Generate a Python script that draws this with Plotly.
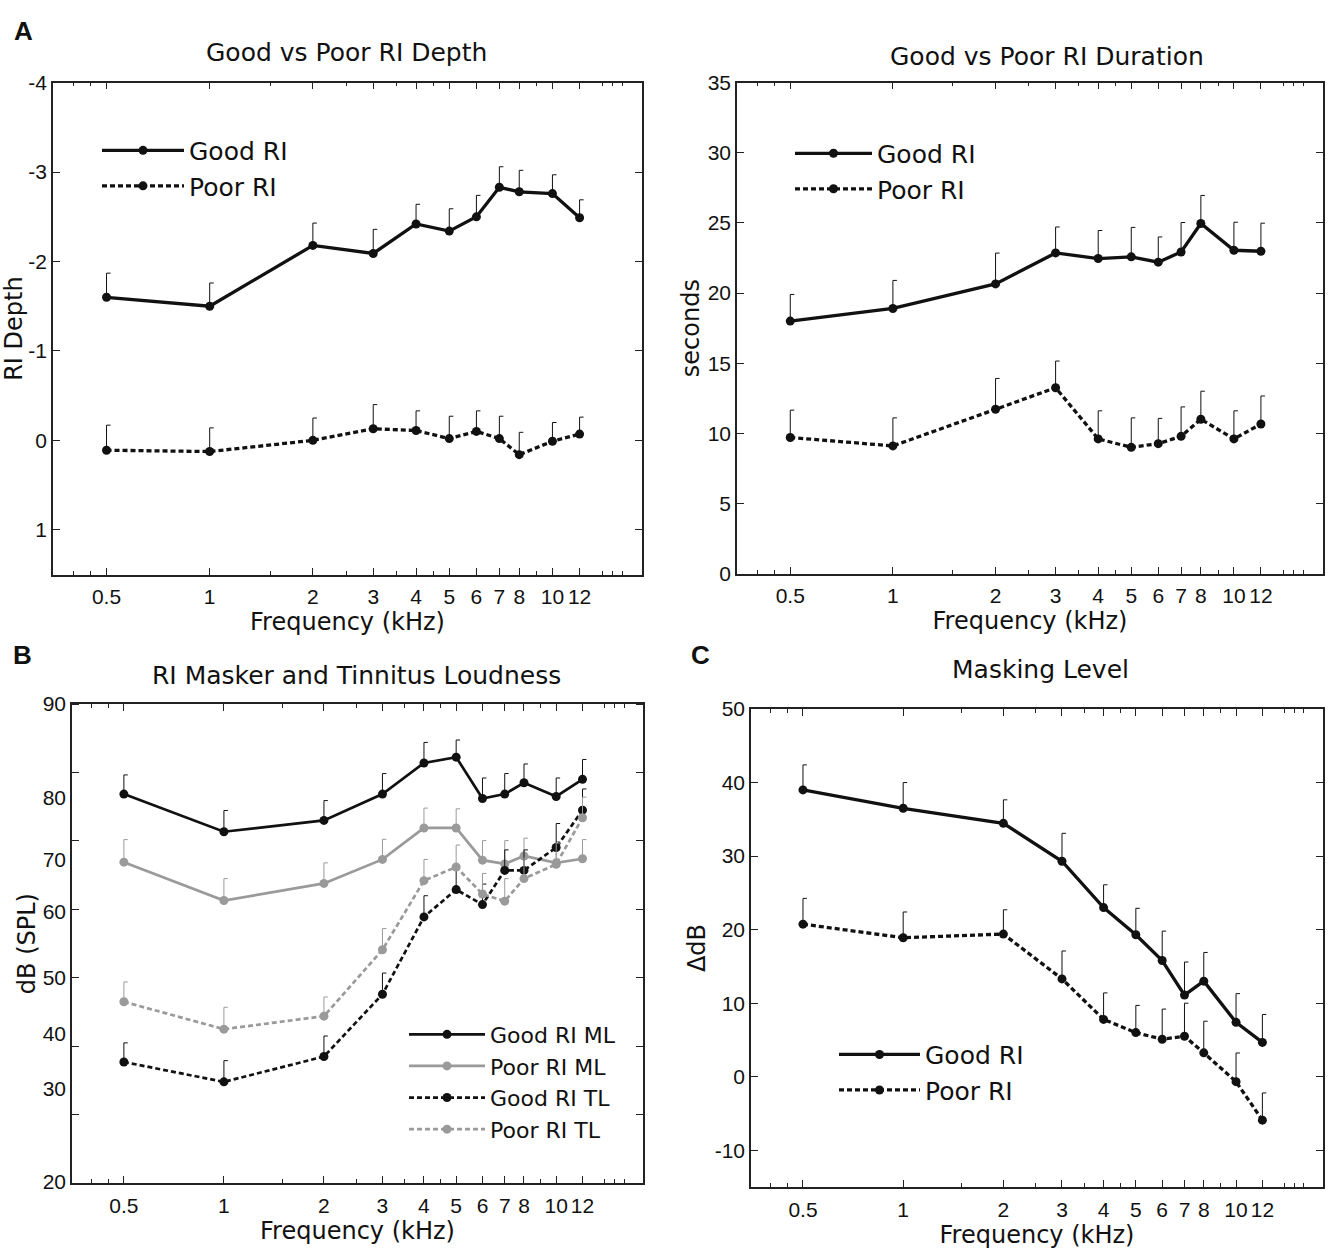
import math
import plotly.graph_objects as go

# ---------------- data ----------------
FREQ = [0.5, 1, 2, 3, 4, 5, 6, 7, 8, 10, 12]
FREQ_LABELS = ["0.5", "1", "2", "3", "4", "5", "6", "7", "8", "10", "12"]
FREQ_MINOR = [0.4, 0.45, 1.5, 2.5, 3.5, 4.5, 9, 14, 15, 16]

# Panel A (left): RI depth
depth_good = [-1.60, -1.50, -2.18, -2.09, -2.42, -2.34, -2.50, -2.83, -2.78, -2.76, -2.49]
depth_good_err = [0.27, 0.26, 0.25, 0.27, 0.22, 0.25, 0.24, 0.23, 0.24, 0.21, 0.20]
depth_poor = [0.11, 0.125, 0.0, -0.13, -0.11, -0.02, -0.10, -0.02, 0.16, 0.01, -0.07]
depth_poor_err = [0.28, 0.265, 0.25, 0.27, 0.22, 0.25, 0.23, 0.25, 0.25, 0.21, 0.19]

# Panel A (right): RI duration (seconds)
dur_good = [18.0, 18.9, 20.65, 22.86, 22.46, 22.58, 22.2, 22.93, 24.96, 23.05, 22.98]
dur_good_err = [1.9, 2.0, 2.2, 1.85, 2.0, 2.1, 1.8, 2.1, 2.0, 2.0, 2.0]
dur_poor = [9.7, 9.1, 11.71, 13.25, 9.6, 9.0, 9.26, 9.78, 11.0, 9.6, 10.66]
dur_poor_err = [1.95, 2.0, 2.2, 1.9, 2.0, 2.1, 1.8, 2.1, 2.0, 2.0, 2.0]

# Panel B: masker level (ML) and tinnitus loudness (TL), dB SPL
ml_good = [76.85, 71.35, 73.0, 76.85, 81.4, 82.25, 76.2, 76.85, 78.5, 76.5, 79.0]
ml_good_err = [2.8, 3.1, 2.9, 3.0, 3.0, 2.5, 3.0, 3.0, 2.75, 2.7, 2.9]
ml_poor = [66.9, 61.3, 63.8, 67.3, 71.9, 71.9, 67.2, 66.65, 67.8, 66.8, 67.4]
ml_poor_err = [3.3, 3.2, 3.0, 2.95, 2.9, 2.8, 2.85, 3.4, 2.6, 3.1, 2.8]
tl_good = [37.7, 34.8, 38.5, 47.6, 58.9, 62.9, 60.7, 65.7, 65.7, 69.05, 74.5]
tl_good_err = [2.8, 3.1, 3.0, 3.1, 3.1, 3.2, 3.0, 3.0, 3.0, 3.5, 3.1]
tl_poor = [46.5, 42.5, 44.4, 54.1, 64.2, 66.2, 62.25, 61.2, 64.5, 66.6, 73.4]
tl_poor_err = [2.9, 3.2, 2.8, 3.1, 3.1, 3.2, 3.0, 3.3, 3.0, 3.1, 3.0]
# panel B y-axis: tick marks every 10 dB, labels printed slightly offset (as in the original)
b_tick_marks = [20, 30, 40, 50, 60, 70, 80, 90]
b_label_pos = [90, 76.4, 67.3, 59.6, 50.1, 41.9, 33.8, 20.2]
b_label_text = ["90", "80", "70", "60", "50", "40", "30", "20"]

# Panel C: masking level (delta dB)
mask_good = [39.0, 36.5, 34.45, 29.3, 23.0, 19.3, 15.8, 11.1, 13.0, 7.4, 4.67]
mask_good_err = [3.4, 3.5, 3.2, 3.8, 3.1, 3.6, 4.0, 4.5, 3.9, 3.9, 3.8]
mask_poor = [20.75, 18.9, 19.4, 13.3, 7.8, 6.0, 5.1, 5.5, 3.25, -0.67, -5.9]
mask_poor_err = [3.5, 3.5, 3.3, 3.8, 3.6, 3.7, 4.1, 4.5, 4.3, 3.9, 3.7]

# ---------------- layout helpers ----------------
W, H = 1333, 1256
BLACK = "#111111"
GRAY = "#9a9a9a"
TXT = "DejaVu Sans, Arial, sans-serif"
TICKF = "Liberation Sans, Arial, sans-serif"
CAP = 2 ** (4 / 102)  # half-cap of error bar (~4 px to the right on log axis)


def dom_x(x0, x1):
    return [x0 / W, x1 / W]


def dom_y(ytop, ybot):
    return [1 - ybot / H, 1 - ytop / H]


fig = go.Figure()


def add_series(name, y, err, sign, xa, ya, color, dash, legend, lw=3.3):
    xs, ys = [], []
    for f, v, e in zip(FREQ, y, err):
        top = v + sign * e
        xs += [f, f, f * CAP, None]
        ys += [v, top, top, None]
    fig.add_trace(go.Scatter(x=xs, y=ys, mode="lines", xaxis=xa, yaxis=ya,
                             line=dict(color=color, width=1), showlegend=False,
                             hoverinfo="skip"))
    fig.add_trace(go.Scatter(x=FREQ, y=y, name=name, mode="lines+markers",
                             xaxis=xa, yaxis=ya, legend=legend,
                             line=dict(color=color, width=lw, dash=dash),
                             marker=dict(size=9, color=color)))


DASH = "5px,3px"

# A left (reversed axis: "up" is more negative)
add_series("Good RI", depth_good, depth_good_err, -1, "x", "y", BLACK, "solid", "legend")
add_series("Poor RI", depth_poor, depth_poor_err, -1, "x", "y", BLACK, DASH, "legend")
# A right
add_series("Good RI", dur_good, dur_good_err, 1, "x2", "y2", BLACK, "solid", "legend2")
add_series("Poor RI", dur_poor, dur_poor_err, 1, "x2", "y2", BLACK, DASH, "legend2")
# B
add_series("Good RI ML", ml_good, ml_good_err, 1, "x3", "y3", BLACK, "solid", "legend3", 2.7)
add_series("Poor RI ML", ml_poor, ml_poor_err, 1, "x3", "y3", GRAY, "solid", "legend3", 2.7)
add_series("Good RI TL", tl_good, tl_good_err, 1, "x3", "y3", BLACK, DASH, "legend3", 2.7)
add_series("Poor RI TL", tl_poor, tl_poor_err, 1, "x3", "y3", GRAY, DASH, "legend3", 2.7)
# C
add_series("Good RI", mask_good, mask_good_err, 1, "x4", "y4", BLACK, "solid", "legend4")
add_series("Poor RI", mask_poor, mask_poor_err, 1, "x4", "y4", BLACK, DASH, "legend4")

XRANGE = [math.log10(0.349), math.log10(18.25)]


def xaxis_cfg(domain, anchor):
    return dict(type="log", range=XRANGE, domain=domain, anchor=anchor,
                tickmode="array", tickvals=FREQ, ticktext=FREQ_LABELS,
                ticks="inside", ticklen=7, tickwidth=1.2, tickcolor="#222",
                minor=dict(tickmode="array", tickvals=FREQ_MINOR, ticks="inside",
                           ticklen=4, tickwidth=1, tickcolor="#222", showgrid=False),
                showline=True, linecolor="#222", linewidth=1.5, mirror="ticks",
                showgrid=False, zeroline=False,
                tickfont=dict(family=TICKF, size=21, color=BLACK),
                ticklabelstandoff=3,
                title=dict(text="Frequency (kHz)", font=dict(family=TXT, size=24, color=BLACK),
                           standoff=0))


def yaxis_cfg(domain, anchor, rng, tickvals, ticktext, title, standoff):
    return dict(range=rng, domain=domain, anchor=anchor,
                tickmode="array", tickvals=tickvals, ticktext=ticktext,
                ticks="inside", ticklen=7, tickwidth=1.2, tickcolor="#222",
                showline=True, linecolor="#222", linewidth=1.5, mirror="ticks",
                showgrid=False, zeroline=False,
                tickfont=dict(family=TICKF, size=21, color=BLACK),
                title=dict(text=title, font=dict(family=TXT, size=24, color=BLACK),
                           standoff=standoff))


A1x, A1y = dom_x(53, 642), dom_y(72, 573)
A2x, A2y = dom_x(737, 1323), dom_y(72, 572)
Bx, By = dom_x(72, 643), dom_y(705, 1193)
Cx, Cy = dom_x(751, 1323), dom_y(710, 1197)

yA1 = yaxis_cfg(A1y, "x", [1.5, -4], [-4, -3, -2, -1, 0, 1], ["-4", "-3", "-2", "-1", "0", "1"], "RI Depth", 1)
yA2 = yaxis_cfg(A2y, "x2", [0, 35], [0, 5, 10, 15, 20, 25, 30, 35], ["0", "5", "10", "15", "20", "25", "30", "35"], "seconds", 1)
yB = yaxis_cfg(By, "x3", [20, 90], b_label_pos, b_label_text, "dB (SPL)", 0)
yB["ticks"] = ""
yB["minor"] = dict(tickmode="array", tickvals=b_tick_marks, ticks="inside", ticklen=7,
                   tickwidth=1.2, tickcolor="#222", showgrid=False)
yC = yaxis_cfg(Cy, "x4", [-15, 50], [-10, 0, 10, 20, 30, 40, 50], ["-10", "0", "10", "20", "30", "40", "50"], "\u0394dB", 2)


def legend_cfg(x, yc, size, iw):
    return dict(x=x / W, y=1 - yc / H, xanchor="left", yanchor="middle",
                bgcolor="rgba(0,0,0,0)", borderwidth=0, itemwidth=iw,
                font=dict(family=TXT, size=size, color=BLACK), traceorder="normal")


annotations = []


def ann(text, x, y, size, bold=False, family=TXT):
    annotations.append(dict(text=("<b>%s</b>" % text) if bold else text, x=x / W, y=1 - y / H,
                            xref="paper", yref="paper", showarrow=False,
                            xanchor="center", yanchor="middle",
                            font=dict(family=family, size=size, color=BLACK)))


ann("Good vs Poor RI Depth", 347, 41, 25)
ann("Good vs Poor RI Duration", 1047, 45, 25)
ann("RI Masker and Tinnitus Loudness", 357, 676, 25)
ann("Masking Level", 1040, 670, 25)
ann("A", 23, 19, 26, True, "Liberation Sans, Arial")
ann("B", 22, 655, 26, True, "Liberation Sans, Arial")
ann("C", 700, 655, 26, True, "Liberation Sans, Arial")

fig.update_layout(
    width=W, height=H, margin=dict(l=0, r=0, t=0, b=0),
    paper_bgcolor="white", plot_bgcolor="white",
    xaxis=xaxis_cfg(A1x, "y"), yaxis=yA1,
    xaxis2=xaxis_cfg(A2x, "y2"), yaxis2=yA2,
    xaxis3=xaxis_cfg(Bx, "y3"), yaxis3=yB,
    xaxis4=xaxis_cfg(Cx, "y4"), yaxis4=yC,
    legend=legend_cfg(97, 159, 25, 82),
    legend2=legend_cfg(790, 162, 25, 77),
    legend3=legend_cfg(404, 1090, 22, 76),
    legend4=legend_cfg(834, 1080, 25, 81),
    annotations=annotations,
    showlegend=True,
)

fig.write_html("out.html", config={"displayModeBar": False},
               post_script="document.body.style.margin='0';")
